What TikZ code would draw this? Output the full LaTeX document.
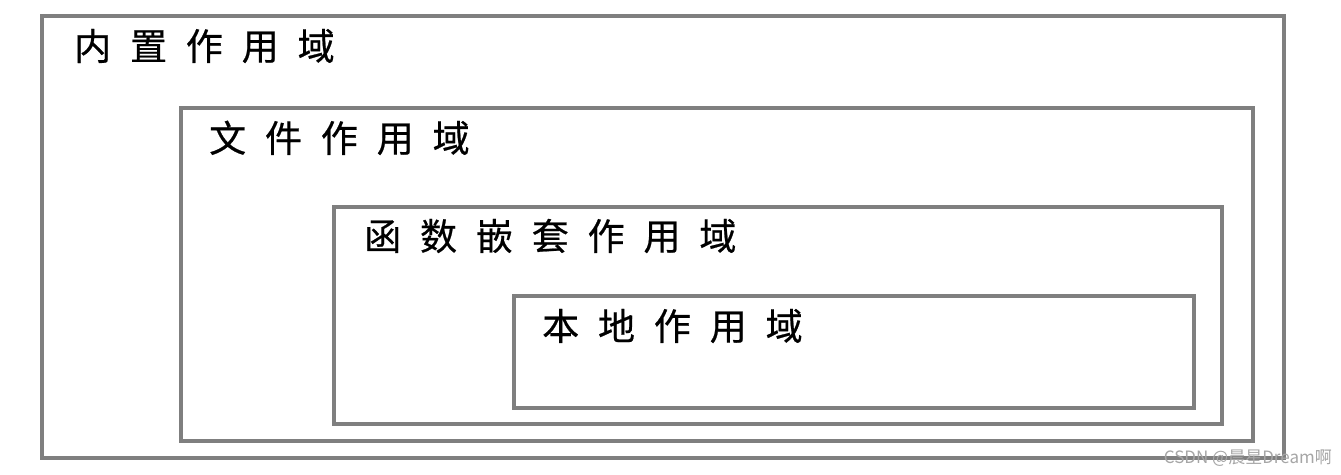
\documentclass[tikz,border=0pt]{standalone}
\usepackage{fontspec}
\newfontfamily\cjk[LetterSpace=51,FakeBold=0.6]{Noto Sans CJK SC}
\newfontfamily\cjkw{Noto Sans CJK SC}
\definecolor{boxgray}{HTML}{7F7F7F}
\tikzset{
  scopebox/.style={draw=boxgray, line width=4pt},
  scopelabel/.style={anchor=base west, inner sep=0pt, font=\cjk\fontsize{37pt}{37pt}\selectfont, text=black},
  wmark/.style={anchor=base east, inner sep=0pt, font=\cjkw\fontsize{17pt}{17pt}\selectfont, text=black!35}
}
\begin{document}
\begin{tikzpicture}[x=1pt,y=-1pt]
\useasboundingbox (0,0) rectangle (1341,474);
\fill[white] (0,0) rectangle (1341,474);
\draw[scopebox] (42,16) rectangle (1284,458);
\draw[scopebox] (181,108) rectangle (1253,441);
\draw[scopebox] (334,207) rectangle (1222,424);
\draw[scopebox] (514,296) rectangle (1194,408);
\node[scopelabel] (l1) at (74,60) {内置作用域};
\node[scopelabel] (l2) at (209,152) {文件作用域};
\node[scopelabel] (l3) at (364,250) {函数嵌套作用域};
\node[scopelabel] (l4) at (542,340) {本地作用域};
\node[wmark] (wm) at (1332,463) {CSDN @晨星Dream啊};
\end{tikzpicture}
\end{document}
